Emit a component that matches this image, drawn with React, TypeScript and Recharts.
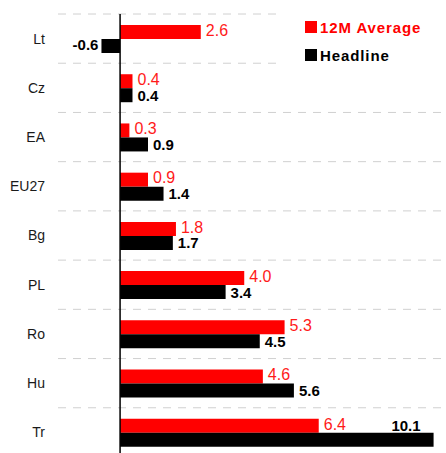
import { BarChart, Bar, XAxis, YAxis, CartesianGrid, ReferenceLine, LabelList, Legend } from 'recharts';

const countries = ['Lt', 'Cz', 'EA', 'EU27', 'Bg', 'PL', 'Ro', 'Hu', 'Tr'];
const avg12m = [2.6, 0.4, 0.3, 0.9, 1.8, 4.0, 5.3, 4.6, 6.4];
const headline = [-0.6, 0.4, 0.9, 1.4, 1.7, 3.4, 4.5, 5.6, 10.1];

const data = countries.map((name, i) => ({ name, avg: avg12m[i], headline: headline[i] }));

const W = 446;
const H = 457;
const font = '"Liberation Sans", Arial, sans-serif';

const legendItems = [
  { label: '12M Average', color: '#ff0000' },
  { label: 'Headline', color: '#000000' },
];

// value labels: outside end, negative on the left, moved above the bar if it would run off the chart
const makeLabel = (color: string, bold: boolean) => (props: any) => {
  const { x, y, width, height, value } = props;
  const end = x + width;
  const cy = y + height / 2 + (bold ? 0 : -2);
  const text = Number(value).toFixed(1);
  const style = { fontSize: bold ? 15 : 16, fontWeight: bold ? 700 : 400, fill: color, fontFamily: font };
  if (value < 0) {
    return <text x={Math.min(x, end) - 3} y={cy - 1} dy="0.36em" textAnchor="end" {...style}>{text}</text>;
  }
  if (end + 40 > W) {
    return <text x={end - 13} y={cy - 14} dy="0.36em" textAnchor="end" {...style}>{text}</text>;
  }
  return <text x={end + 5} y={cy} dy="0.36em" textAnchor="start" {...style}>{text}</text>;
};

const renderLegend = () => (
  <div style={{ background: '#fff', width: 170, height: 70, paddingTop: 13, paddingLeft: 29, boxSizing: 'border-box' }}>
    {legendItems.map((it) => (
      <div key={it.label} style={{ display: 'flex', alignItems: 'center', height: 28, fontFamily: font, fontWeight: 700, fontSize: 15, letterSpacing: 0.9, color: it.color }}>
        <span style={{ width: 12, height: 12, background: it.color, marginRight: 3, display: 'inline-block' }} />
        {it.label}
      </div>
    ))}
  </div>
);

export default function App() {
  return (
    <div style={{ position: 'absolute', left: 0, top: 0, width: W, height: 453, overflow: 'hidden', background: '#fff' }}>
      <BarChart
        width={W}
        height={H}
        data={data}
        layout="vertical"
        margin={{ top: 14, right: 0, bottom: 0, left: 0 }}
        barGap={0}
        barSize={14}
      >
        <CartesianGrid
          vertical={false}
          stroke="#d0d0d0"
          strokeDasharray="8 7"
          horizontalCoordinatesGenerator={({ offset }: any) =>
            Array.from({ length: countries.length + 1 }, (_, i) => offset.top + (i * offset.height) / countries.length)
          }
        />
        <XAxis type="number" domain={[-2, 10.5]} hide />
        <YAxis
          type="category"
          dataKey="name"
          width={58}
          axisLine={false}
          tickLine={false}
          tickSize={0}
          tickMargin={13}
          tick={{ fontSize: 14, fill: '#1a1a1a', fontFamily: font }}
        />
        <Legend
          verticalAlign="middle"
          align="center"
          layout="horizontal"
          content={renderLegend}
          wrapperStyle={{ position: 'absolute', left: 276, top: 0, width: 170, height: 70 }}
        />
        <Bar dataKey="avg" name="12M Average" fill="#ff0000" isAnimationActive={false}>
          <LabelList dataKey="avg" content={makeLabel('#ff1a1a', false)} />
        </Bar>
        <Bar dataKey="headline" name="Headline" fill="#000000" isAnimationActive={false}>
          <LabelList dataKey="headline" content={makeLabel('#000000', true)} />
        </Bar>
        <ReferenceLine x={0} stroke="#000" strokeWidth={1.5} />
      </BarChart>
    </div>
  );
}
